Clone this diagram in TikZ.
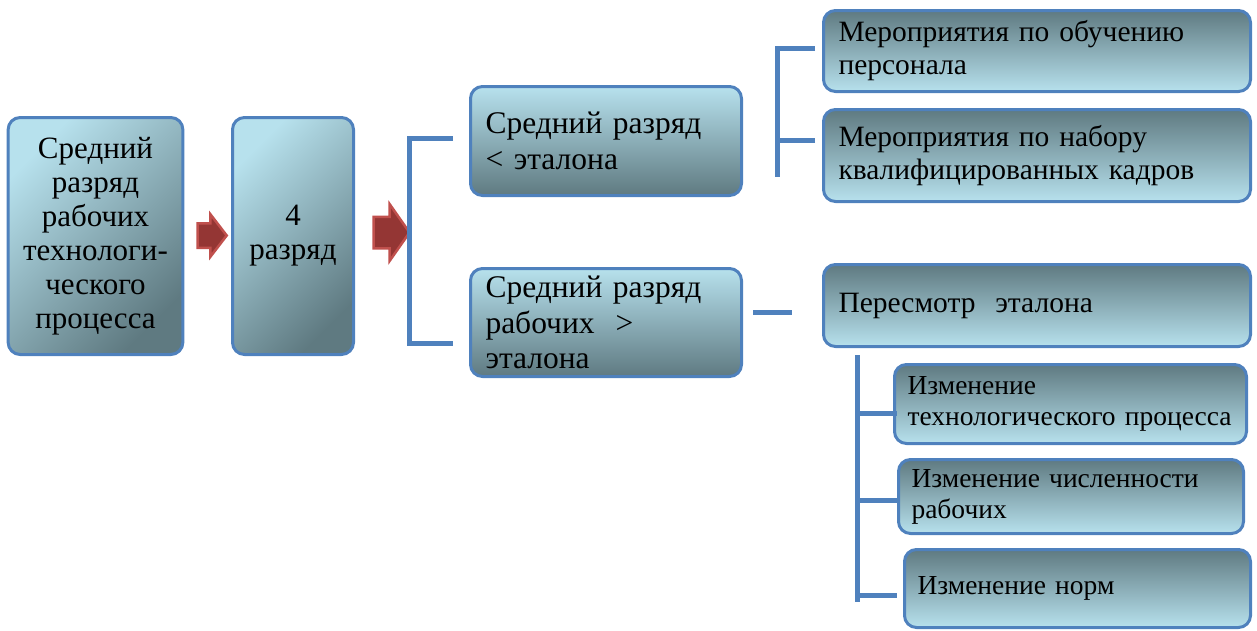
\documentclass[tikz,border=0pt]{standalone}
\usepackage{fontspec}
\setmainfont{Liberation Serif}
\usepackage{xcolor}
\usepackage{tikz}
\usetikzlibrary{shapes.arrows, positioning, calc}
\definecolor{frameblue}{RGB}{79,129,189}
\definecolor{shlight}{RGB}{183,225,237}
\definecolor{shdark}{RGB}{95,122,129}
\definecolor{arrowfill}{RGB}{148,54,52}
\definecolor{arrowedge}{RGB}{192,80,77}
\tikzstyle{box} = [rectangle, rounded corners=12pt, draw=frameblue, line width=3pt, inner xsep=15pt, inner ysep=0pt]
\tikzstyle{diag} = [box, top color=shlight, bottom color=shdark, shading angle=45, align=center, font=\fontsize{31}{34}\selectfont]
\tikzstyle{darkdown} = [box, top color=shlight, bottom color=shdark, align=left, font=\fontsize{31.5}{35.5}\selectfont]
\tikzstyle{darkup} = [box, top color=shdark, bottom color=shlight, align=left, font=\fontsize{29.5}{33}\selectfont]
\tikzstyle{smallup} = [darkup, inner xsep=13pt, font=\fontsize{27.5}{31}\selectfont]
\tikzstyle{fatarrow} = [single arrow, draw=arrowedge, fill=arrowfill, line width=2.5pt, inner xsep=0pt]
\tikzstyle{bracket} = [draw=frameblue, line width=5pt]

\begin{document}
\begin{tikzpicture}[x=1pt, y=-1pt]
\useasboundingbox (0,0) rectangle (1257,630);
\node[diag, minimum width=172pt, minimum height=237pt] (src) at (95.5,236) {Средний\\разряд\\рабочих\\технологи-\\ческого\\процесса};
\node[diag, minimum width=121pt, minimum height=237pt] (grade) at (293,236) {4\\разряд};
\node[fatarrow, minimum height=29pt, inner ysep=11pt, single arrow head extend=9pt, single arrow tip angle=105] (arr1) at (207.5,235.5) {};
\node[fatarrow, minimum height=36pt, inner ysep=14.5pt, single arrow head extend=12.5pt, single arrow tip angle=110] (arr2) at (386,232.5) {};

\node[darkdown, text width=241pt, minimum height=109pt] (low) at (606,141) {Средний разряд\\< эталона};
\node[darkdown, text width=241pt, minimum height=108pt] (high) at (606,322.5) {Средний разряд\\рабочих~~>\\эталона};

\node[darkup, text width=397pt, minimum height=81pt] (train) at (1037,51) {Мероприятия по обучению\\персонала};
\node[darkup, text width=397pt, minimum height=92pt] (hire) at (1037,155.5) {Мероприятия по набору\\квалифицированных кадров};
\node[darkup, text width=397pt, minimum height=82pt] (revise) at (1037,305.5) {Пересмотр~~эталона};
\node[smallup, text width=326pt, minimum height=79pt] (tech) at (1070.5,404) {Изменение\\технологического процесса};
\node[smallup, text width=319pt, minimum height=74pt] (staff) at (1071,496.5) {Изменение численности\\рабочих};
\node[smallup, text width=320pt, minimum height=78pt] (norms) at (1077.5,588.5) {Изменение норм};

\coordinate (lowtip) at (453,138);
\coordinate (hightip) at (453,343);
\draw[bracket] (lowtip) -- ++(-44,0) |- (hightip);

\coordinate (traintip) at (815,48);
\coordinate (hiretip) at (815,140);
\coordinate (lowfork) at (777,177);
\draw[bracket] (traintip) -| (lowfork);
\draw[bracket] (hiretip) -- (hiretip -| lowfork);

\coordinate (highend) at (753,312);
\coordinate (reviseend) at (792,312);
\draw[bracket] (highend) -- (reviseend);

\coordinate (revfork) at (857,355);
\coordinate (forkend) at (857,602);
\draw[bracket] (revfork) -- (forkend);
\foreach \y in {413,500,595}
  \draw[bracket] (revfork |- 0,\y) -- ++(40,0);
\end{tikzpicture}
\end{document}
